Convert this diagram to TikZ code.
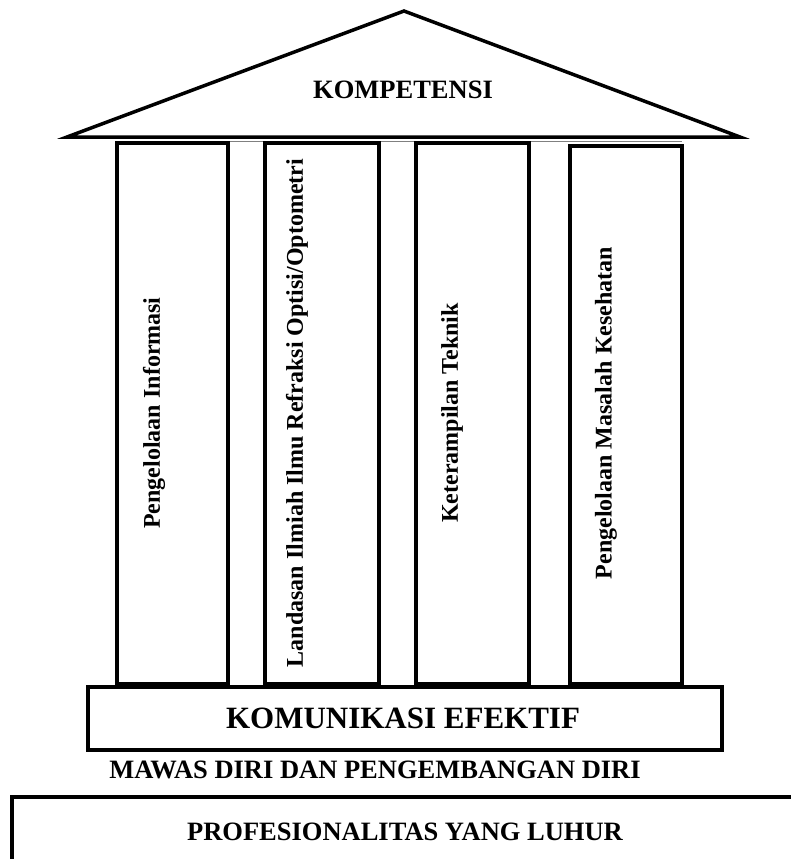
\documentclass[tikz,border=0pt]{standalone}
\usepackage{fontspec}
\setmainfont{Liberation Serif}
\usetikzlibrary{positioning}
\tikzset{
  wall/.style={line width=3.5pt, line join=miter},
  pillartext/.style={rotate=90, inner sep=0pt, font=\fontsize{24}{28}\selectfont\bfseries},
  bigtext/.style={inner sep=0pt, font=\fontsize{26.5}{30}\selectfont\bfseries},
}

\begin{document}
\begin{tikzpicture}[x=1pt, y=-1pt]
  \useasboundingbox (0,0) rectangle (791,859);

  % roof
  \coordinate (roofL) at (67,137);
  \coordinate (roofT) at (404,11);
  \coordinate (roofR) at (740,137);
  \draw[wall] (roofL) -- (roofT) -- (roofR) -- cycle;
  \node[bigtext] (kompetensi) at (403,90) {KOMPETENSI};

  % thin line under the roof
  \draw[gray, thin] (117,141) -- (682,141);

  % pillars
  \draw[wall, fill=white] (117,143) rectangle (228,684);
  \draw[wall, fill=white] (265,143) rectangle (379,684);
  \draw[wall, fill=white] (416,143) rectangle (529,684);
  \draw[wall, fill=white] (570,146) rectangle (682,684);

  \node[pillartext] (informasi) at (154,413) {Pengelolaan Informasi};
  \node[pillartext] (landasan) at (297,413) {Landasan Ilmiah Ilmu Refraksi Optisi/Optometri};
  \node[pillartext] (teknik) at (452,413) {Keterampilan Teknik};
  \node[pillartext] (kesehatan) at (606,413) {Pengelolaan Masalah Kesehatan};

  % base
  \draw[wall, fill=white] (88,687) rectangle (722,750);
  \node[inner sep=0pt, font=\fontsize{31}{36}\selectfont\bfseries] (komunikasi) at (403,718) {KOMUNIKASI EFEKTIF};

  \node[bigtext] (mawas) at (375,770) {MAWAS DIRI DAN PENGEMBANGAN DIRI};

  % ground
  \draw[wall] (12,862) -- (12,797) -- (795,797);
  \node[bigtext] (profesional) at (405,832) {PROFESIONALITAS YANG LUHUR};
\end{tikzpicture}
\end{document}
